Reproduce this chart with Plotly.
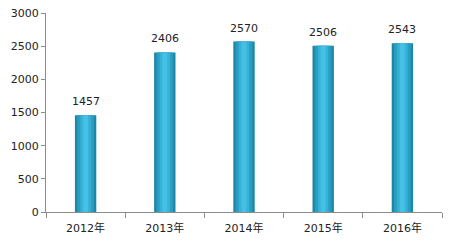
import plotly.graph_objects as go

years = ["2012年", "2013年", "2014年", "2015年", "2016年"]
values = [1457, 2406, 2570, 2506, 2543]
y_ticks = [0, 500, 1000, 1500, 2000, 2500, 3000]

font_fam = "DejaVu Sans, Noto Sans CJK SC, sans-serif"

fig = go.Figure()
# cylinder-like shading: layered bars of decreasing width
layers = [(0.27, "#1e87a6"), (0.21, "#2a9ec1"), (0.13, "#37b3d8"), (0.06, "#46c1e5")]
for w, c in layers:
    fig.add_trace(go.Bar(x=years, y=values, width=w, marker=dict(color=c, line=dict(width=0)),
                         hoverinfo="skip", showlegend=False))

for xv, yv in zip(years, values):
    fig.add_annotation(x=xv, y=yv, text=str(yv), showarrow=False, yanchor="bottom", yshift=5,
                       font=dict(size=11, color="#222222", family=font_fam))

fig.update_layout(
    width=449, height=242, barmode="overlay",
    margin=dict(l=46, r=7, t=11, b=28),
    paper_bgcolor="white", plot_bgcolor="white",
    font=dict(family=font_fam, size=11, color="#333333"),
    xaxis=dict(showline=True, linecolor="#8c8c8c", linewidth=1, ticks="outside", tickson="boundaries",
               ticklen=5, tickcolor="#8c8c8c", showgrid=False, ticklabelstandoff=6,
               tickfont=dict(size=11, color="#222222")),
    yaxis=dict(range=[0, 3000], tickvals=y_ticks, showline=True, linecolor="#8c8c8c", linewidth=1,
               ticks="outside", ticklen=4, tickcolor="#8c8c8c", showgrid=False, zeroline=False,
               tickfont=dict(size=11, color="#222222")),
)

fig.write_html("out.html")
